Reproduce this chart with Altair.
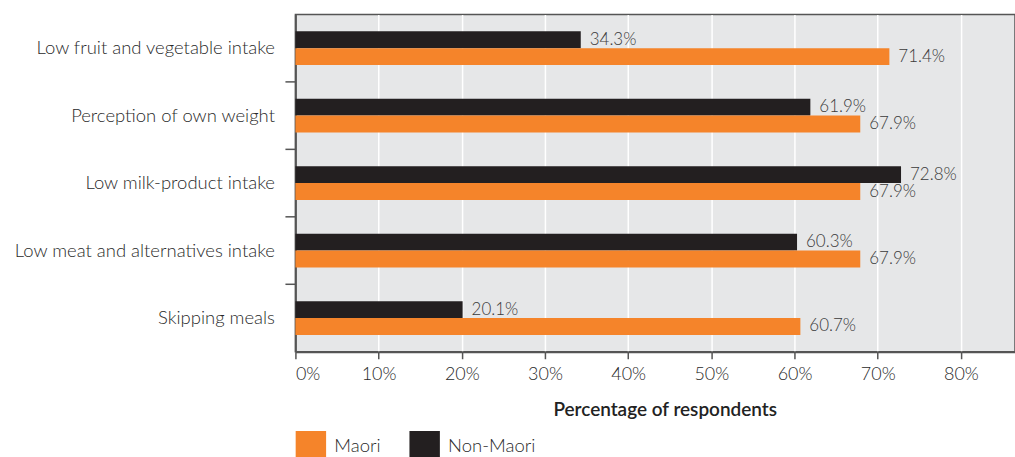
import altair as alt
import pandas as pd

categories = [
    "Low fruit and vegetable intake",
    "Perception of own weight",
    "Low milk-product intake",
    "Low meat and alternatives intake",
    "Skipping meals",
]
maori = [71.4, 67.9, 67.9, 67.9, 60.7]
non_maori = [34.3, 61.9, 72.8, 60.3, 20.1]
series = ["Maori", "Non-Maori"]
colors = ["#F5842A", "#231F20"]
ticks = [0, 10, 20, 30, 40, 50, 60, 70, 80]

rows = []
for c, m, n in zip(categories, maori, non_maori):
    rows.append({"cat": c, "series": "Non-Maori", "value": n, "label": f"{n:.1f}%"})
    rows.append({"cat": c, "series": "Maori", "value": m, "label": f"{m:.1f}%"})
df = pd.DataFrame(rows)
sep = pd.DataFrame({"cat": categories[1:]})

FONT = "Lato"
LW = 300
TXT = "#2A2A2A"

yenc = alt.Y(
    "cat:N",
    sort=categories,
    scale=alt.Scale(paddingInner=0, paddingOuter=0),
    axis=alt.Axis(
        title=None, ticks=False, labelPadding=21, labelFontSize=18.5,
        labelFontWeight=LW, labelColor=TXT, labelFont=FONT,
        domainColor="#555555", domainWidth=2, labelLimit=400,
    ),
)
yoff = alt.YOffset(
    "series:N", sort=["Non-Maori", "Maori"],
    scale=alt.Scale(paddingInner=0, paddingOuter=1),
)
xenc = alt.X(
    "value:Q",
    scale=alt.Scale(domain=[0, 86.5], nice=False, zero=True),
    axis=alt.Axis(
        values=ticks, labelExpr="datum.value + '%'", title="Percentage of respondents",
        titleFont=FONT, titleFontSize=19, titleFontWeight=600, titleColor="#222222",
        titleX=370, titlePadding=17, labelFont=FONT, labelFontSize=18,
        labelFontWeight=LW, labelColor=TXT, tickSize=7, tickColor="#555555",
        tickWidth=1.5, labelPadding=7, domainColor="#555555", domainWidth=2,
        grid=True, gridColor="#FFFFFF", gridWidth=1.5,
    ),
)

bars = alt.Chart(df).mark_bar().encode(
    y=yenc, yOffset=yoff, x=xenc,
    color=alt.Color(
        "series:N",
        scale=alt.Scale(domain=series, range=colors),
        legend=alt.Legend(
            title=None, orient="none", legendX=0, legendY=417, direction="horizontal",
            symbolType="square", symbolSize=930, symbolStrokeWidth=0, symbolOpacity=1,
            labelFont=FONT, labelFontSize=18.5, labelFontWeight=LW, labelColor=TXT,
            labelOffset=8, columnPadding=28, padding=0,
        ),
    ),
)

text = alt.Chart(df).mark_text(
    align="left", baseline="middle", dx=9, fontSize=17, font=FONT,
    fontWeight=LW, color="#3A3A3A"
).encode(y=alt.Y("cat:N", sort=categories), yOffset=yoff, x="value:Q", text="label:N")

seps = alt.Chart(sep).mark_rule(color="#555555", strokeWidth=1.5).encode(
    y=alt.Y("cat:N", sort=categories, bandPosition=0),
    x=alt.value(-10), x2=alt.value(0),
)

chart = alt.layer(bars, text, seps).properties(
    width=721, height=338,
    autosize=alt.AutoSizeParams(type="none"),
    padding={"left": 296, "top": 14, "right": 0, "bottom": 105},
    background="#FFFFFF",
).configure_view(fill="#E6E7E8", stroke="#555555", strokeWidth=1.5)

chart.save("out.html", embed_options={"renderer": "svg", "actions": False})
